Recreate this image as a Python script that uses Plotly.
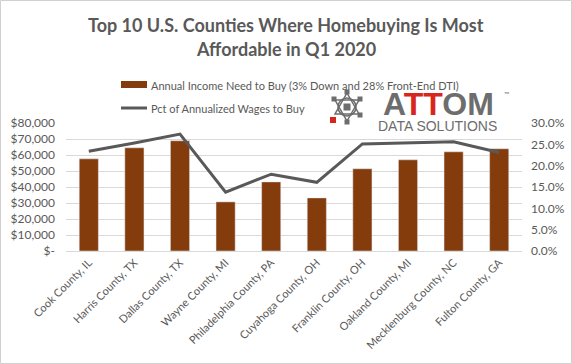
import plotly.graph_objects as go

counties = ["Cook County, IL", "Harris County, TX", "Dallas County, TX", "Wayne County, MI",
            "Philadelphia County, PA", "Cuyahoga County, OH", "Franklin County, OH",
            "Oakland County, MI", "Mecklenburg County, NC", "Fulton County, GA"]
income_needed = [57600, 64500, 68900, 30700, 43200, 33200, 51400, 57000, 62000, 63900]
pct_wages = [0.234, 0.253, 0.274, 0.138, 0.180, 0.161, 0.251, 0.254, 0.256, 0.231]

left_ticks = [0, 10000, 20000, 30000, 40000, 50000, 60000, 70000, 80000]
left_labels = ["$-", "$10,000", "$20,000", "$30,000", "$40,000", "$50,000", "$60,000", "$70,000", "$80,000"]
right_ticks = [0, 0.05, 0.10, 0.15, 0.20, 0.25, 0.30]

title_lines = ["Top 10 U.S. Counties Where Homebuying Is Most", "Affordable in Q1 2020"]
bar_name = "Annual Income Need to Buy (3% Down and 28% Front-End DTI)"
line_name = "Pct of Annualized Wages to Buy"

FONT = "Lato"
GRAY = "#595959"
BROWN = "#843C0C"
LOGO = "#6d6d6d"
L, R, T, B = 66, 50, 123, 113
W, H = 572, 364
PW, PH = W - L - R, H - T - B


def px_x(x):
    return (x - L) / PW


def px_y(y):
    return (H - B - y) / PH


fig = go.Figure()
fig.add_trace(go.Bar(x=counties, y=income_needed, name=bar_name,
                     marker=dict(color=BROWN), yaxis="y"))
fig.add_trace(go.Scatter(x=counties, y=pct_wages, name=line_name, mode="lines",
                         line=dict(color=GRAY, width=3), yaxis="y2"))

P = dict(xref="paper", yref="paper")
shapes = [
    dict(type="rect", x0=px_x(0.5), x1=px_x(571.5), y0=px_y(363.5), y1=px_y(0.5),
         line=dict(color="#d0d0d0", width=1), fillcolor="rgba(0,0,0,0)", layer="below", **P),
    # custom legend symbols
    dict(type="rect", x0=px_x(121), x1=px_x(147), y0=px_y(88), y1=px_y(81),
         line=dict(width=0), fillcolor=BROWN, **P),
    dict(type="line", x0=px_x(121), x1=px_x(147), y0=px_y(108), y1=px_y(108),
         line=dict(color=GRAY, width=3), **P),
]

# simple logo icon (approximation)
cx, cy = 347, 107
icon = dict(line=dict(color=LOGO, width=1.5), **P)
pts_up = [(cx, cy - 14), (cx + 12, cy + 7), (cx - 12, cy + 7)]
pts_dn = [(cx, cy + 14), (cx + 12, cy - 7), (cx - 12, cy - 7)]
for pts in (pts_up, pts_dn):
    path = "M {} {} L {} {} L {} {} Z".format(*[v for p in pts for v in (px_x(p[0]), px_y(p[1]))])
    shapes.append(dict(type="path", path=path, **icon))
shapes.append(dict(type="circle", x0=px_x(cx - 9), x1=px_x(cx + 9), y0=px_y(cy + 9), y1=px_y(cy - 9), **icon))
shapes.append(dict(type="rect", x0=px_x(cx - 3.5), x1=px_x(cx + 3.5), y0=px_y(cy + 3.5), y1=px_y(cy - 3.5),
                   line=dict(width=0), fillcolor=LOGO, **P))
for (dx, dy) in [(0, -15), (13, -8), (13, 8), (0, 15), (-13, -8)]:
    shapes.append(dict(type="rect", x0=px_x(cx + dx - 2.5), x1=px_x(cx + dx + 2.5),
                       y0=px_y(cy + dy + 2.5), y1=px_y(cy + dy - 2.5),
                       line=dict(width=0), fillcolor=LOGO, **P))
shapes.append(dict(type="rect", x0=px_x(330), x1=px_x(336), y0=px_y(123), y1=px_y(117),
                   line=dict(width=0), fillcolor="#d9261c", **P))

annotations = [
    dict(text="<b>" + title_lines[0] + "</b>", x=px_x(286), y=px_y(25), xanchor="center", yanchor="middle",
         showarrow=False, font=dict(family=FONT, size=18, color=GRAY), **P),
    dict(text="<b>" + title_lines[1] + "</b>", x=px_x(286), y=px_y(49), xanchor="center", yanchor="middle",
         showarrow=False, font=dict(family=FONT, size=18, color=GRAY), **P),
    dict(text=bar_name, x=px_x(149), y=px_y(85), xanchor="left", yanchor="middle", showarrow=False,
         font=dict(family=FONT, size=11, color=GRAY), **P),
    dict(text=line_name, x=px_x(149), y=px_y(108), xanchor="left", yanchor="middle", showarrow=False,
         font=dict(family=FONT, size=11, color=GRAY), **P),
    dict(text="<b>A<span style='color:#d9261c'>TT</span>OM</b>",
         x=px_x(381), y=px_y(104), xanchor="left", yanchor="middle", showarrow=False,
         height=28, font=dict(family="Liberation Sans", size=32, color=LOGO), **P),
    dict(text="DATA SOLUTIONS", x=px_x(376), y=px_y(126), xanchor="left", yanchor="middle", showarrow=False,
         height=14, font=dict(family="Liberation Sans", size=14, color=LOGO), **P),
    dict(text="™", x=px_x(502), y=px_y(94), xanchor="left", yanchor="middle", showarrow=False,
         font=dict(family=FONT, size=7, color=LOGO), **P),
]

fig.update_layout(
    width=W, height=H,
    margin=dict(l=L, r=R, t=T, b=B, autoexpand=False),
    paper_bgcolor="white", plot_bgcolor="white",
    font=dict(family=FONT, size=11, color=GRAY),
    bargap=0.58,
    showlegend=False,
    xaxis=dict(tickangle=-45, showgrid=False, showline=True, linecolor="#d9d9d9",
               ticks="", tickfont=dict(size=11, color=GRAY)),
    yaxis=dict(range=[0, 80000], tickvals=left_ticks, ticktext=left_labels, showgrid=True,
               gridcolor="#d9d9d9", zeroline=False, showline=False, ticks="",
               ticklabelstandoff=10, tickfont=dict(size=12, color=GRAY)),
    yaxis2=dict(range=[0, 0.30], tickvals=right_ticks, tickformat=".1%", overlaying="y", side="right",
                showgrid=False, zeroline=False, showline=False, ticks="",
                ticklabelstandoff=8, tickfont=dict(size=12, color=GRAY)),
    shapes=shapes,
    annotations=annotations,
)

fig.write_html("out.html", config={"displayModeBar": False},
               post_script="document.body.style.margin='0';")
